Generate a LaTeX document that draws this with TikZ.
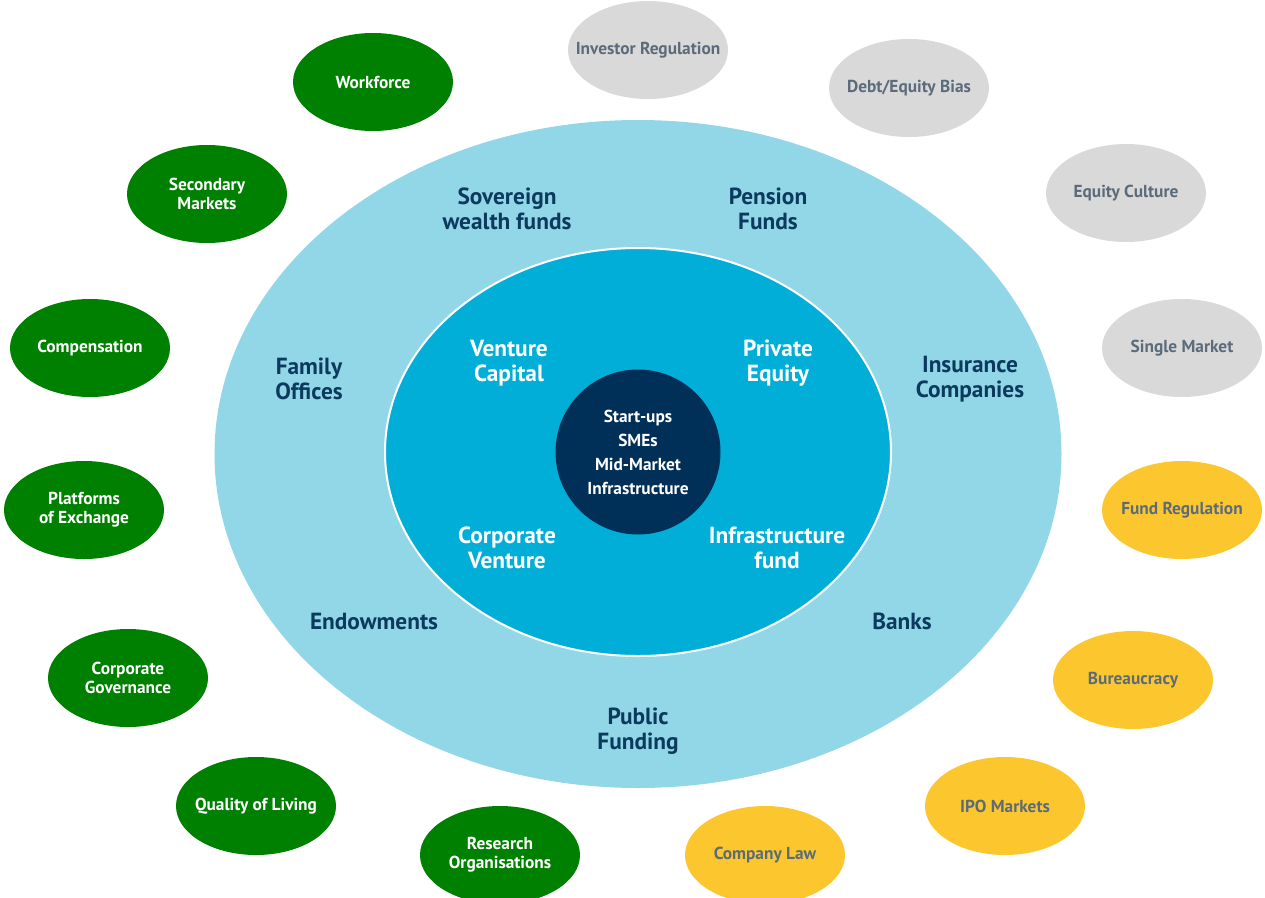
\documentclass[tikz,border=0pt]{standalone}
\usepackage{fontspec}
\setmainfont{PT Sans}
\usetikzlibrary{shapes.geometric}
\definecolor{outerblue}{HTML}{92D7E7}
\definecolor{innerblue}{HTML}{00AED8}
\definecolor{coreblue}{HTML}{003057}
\definecolor{navytext}{HTML}{0C3A5E}
\definecolor{leafgreen}{HTML}{008000}
\definecolor{leafgray}{HTML}{D9D9D9}
\definecolor{leafyellow}{HTML}{FCC72E}
\definecolor{slatetext}{HTML}{5B6B7A}
\tikzset{
  leaf/.style={ellipse, minimum width=120pt, minimum height=73.5pt, inner xsep=-16pt, inner ysep=0pt,
    align=center, font=\bfseries\fontsize{13pt}{14.5pt}\selectfont},
  greenleaf/.style={leaf, fill=leafgreen, text=white},
  grayleaf/.style={leaf, fill=leafgray, text=slatetext},
  yellowleaf/.style={leaf, fill=leafyellow, text=slatetext},
  outerlabel/.style={align=center, text=navytext, font=\bfseries\fontsize{17.5pt}{18.5pt}\selectfont},
  innerlabel/.style={align=center, text=white, font=\bfseries\fontsize{17.5pt}{18.5pt}\selectfont},
}
\begin{document}
\begin{tikzpicture}[x=0.75pt, y=-0.75pt]
\useasboundingbox (0,0) rectangle (1265,897);
\clip (0,0) rectangle (1265,897);
% rings
\node[ellipse, fill=outerblue, minimum width=635.25pt, minimum height=501pt, inner sep=0pt] (outer) at (638,454) {};
\node[ellipse, fill=innerblue, draw=white, line width=1.5pt, minimum width=379.5pt, minimum height=306pt, inner sep=0pt] (inner) at (638,452) {};
\node[circle, fill=coreblue, minimum size=123.75pt, inner sep=0pt] (core) at (638,452) {};
\node[align=center, text=white, font=\bfseries\fontsize{13pt}{18pt}\selectfont] (coretext) at (638,452) {Start-ups\\SMEs\\Mid-Market\\Infrastructure};
% outer labels
\node[outerlabel] (swf) at (507,209) {Sovereign\\wealth funds};
\node[outerlabel] (pension) at (768,209) {Pension\\Funds};
\node[outerlabel] (family) at (309,379) {Family\\Offices};
\node[outerlabel] (insurance) at (970,379) {Insurance\\Companies};
\node[outerlabel] (endow) at (374,621) {Endowments};
\node[outerlabel] (banks) at (902,621) {Banks};
\node[outerlabel] (public) at (638,731) {Public\\Funding};
% inner labels
\node[innerlabel] (vc) at (509,363) {Venture\\Capital};
\node[innerlabel] (pe) at (778,363) {Private\\Equity};
\node[innerlabel] (cv) at (507,548) {Corporate\\Venture};
\node[innerlabel] (inf) at (777,548) {Infrastructure\\fund};
% green leaves
\node[greenleaf] (workforce) at (373,82) {Workforce};
\node[greenleaf] (secondary) at (207,194) {Secondary\\Markets};
\node[greenleaf] (compensation) at (90,348) {Compensation};
\node[greenleaf] (platforms) at (84,510) {Platforms\\of Exchange};
\node[greenleaf] (governance) at (128,678) {Corporate\\Governance};
\node[greenleaf] (living) at (256,806) {Quality of Living};
\node[greenleaf] (research) at (500,855) {Research\\Organisations};
% yellow leaves
\node[yellowleaf] (companylaw) at (765,855) {Company Law};
\node[yellowleaf] (ipo) at (1005,806) {IPO Markets};
\node[yellowleaf] (bureaucracy) at (1133,680) {Bureaucracy};
\node[yellowleaf] (fundreg) at (1182,510) {Fund Regulation};
% gray leaves
\node[grayleaf] (single) at (1182,348) {Single Market};
\node[grayleaf] (culture) at (1126,193) {Equity Culture};
\node[grayleaf] (bias) at (909,88) {Debt/Equity Bias};
\node[grayleaf] (investor) at (648,50) {Investor Regulation};
\end{tikzpicture}
\end{document}
